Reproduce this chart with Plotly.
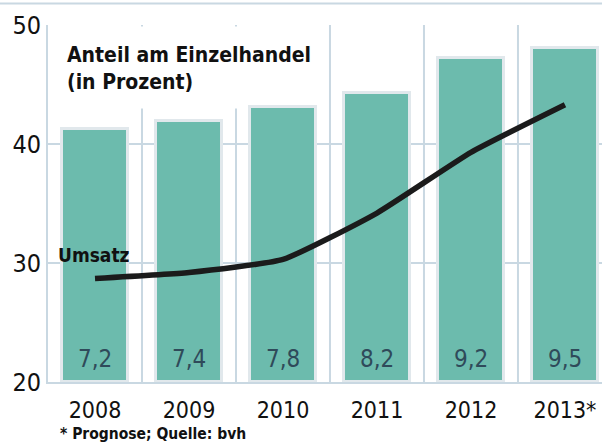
import plotly.graph_objects as go

years = ["2008", "2009", "2010", "2011", "2012", "2013*"]
share_pct = [7.2, 7.4, 7.8, 8.2, 9.2, 9.5]
share_labels = ["7,2", "7,4", "7,8", "8,2", "9,2", "9,5"]
umsatz = [28.7, 29.2, 30.3, 34.2, 39.3, 43.3]
y_ticks = [20, 30, 40, 50]

FONT = "Liberation Sans Narrow, DejaVu Sans Condensed, Arial Narrow, sans-serif"
GRID = "#c9d8e2"
TEAL = "#6cbbad"
LABEL = "#2f4a5a"

xs = list(range(len(years)))

fig = go.Figure()
fig.add_trace(go.Bar(
    x=xs, y=share_pct, yaxis="y", width=0.70,
    marker=dict(color=TEAL, line=dict(color="#e1e8ec", width=3)),
    hoverinfo="skip", showlegend=False,
))
fig.add_trace(go.Scatter(
    x=xs, y=umsatz, yaxis="y2", mode="lines",
    line=dict(color="#1b1b1b", width=5.5, shape="spline", smoothing=0.45),
    showlegend=False, cliponaxis=False, hoverinfo="skip",
))

shapes = []
for i in range(len(years) - 1):
    shapes.append(dict(type="line", xref="x", yref="paper", x0=i + 0.5, x1=i + 0.5,
                       y0=0, y1=1, line=dict(color=GRID, width=2), layer="between"))
# white box behind the title
shapes.append(dict(type="rect", xref="paper", yref="paper", x0=0.004, x1=0.487,
                   y0=0.766, y1=0.996, fillcolor="white", line=dict(width=0), layer="between"))
# thin rule at the very top
shapes.append(dict(type="line", xref="paper", yref="paper", x0=-0.09, x1=1.0,
                   y0=1.06, y1=1.06, line=dict(color=GRID, width=2), layer="above"))

annotations = []
for i, t in enumerate(share_labels):
    annotations.append(dict(x=xs[i], y=21.93, xref="x", yref="y2", text=t, showarrow=False,
                            font=dict(family=FONT, size=24, color=LABEL),
                            xanchor="center", yanchor="middle"))
annotations.append(dict(x=0.031, y=0.955, xref="paper", yref="paper",
                        text="<b>Anteil am Einzelhandel<br>(in Prozent)</b>", showarrow=False,
                        align="left", xanchor="left", yanchor="top",
                        font=dict(family=FONT, size=21, color="#111")))
annotations.append(dict(x=xs[0], y=umsatz[0], xref="x", yref="y2", text="<b>Umsatz</b>",
                        showarrow=False, xanchor="center", yanchor="bottom", xshift=-1, yshift=10,
                        font=dict(family=FONT, size=19, color="#111")))
annotations.append(dict(x=0.018, y=-0.115, xref="paper", yref="paper",
                        text="<b>* Prognose; Quelle: bvh</b>", showarrow=False,
                        xanchor="left", yanchor="top",
                        font=dict(family=FONT, size=15.5, color="#111")))

fig.update_layout(
    width=602, height=447,
    margin=dict(l=48, r=0, t=24.5, b=65, autoexpand=False),
    paper_bgcolor="white", plot_bgcolor="white",
    bargap=0,
    xaxis=dict(range=[-0.5, 5.394], tickvals=xs, ticktext=years, showgrid=False,
               zeroline=False, showline=True, linecolor=GRID, linewidth=2, automargin=False,
               ticks="outside", ticklen=6, tickcolor="rgba(0,0,0,0)",
               tickfont=dict(family=FONT, size=23, color="#111")),
    yaxis=dict(range=[0, 10.14], visible=False, showgrid=False, zeroline=False, automargin=False),
    yaxis2=dict(range=[20, 50], overlaying="y", side="left", tickvals=y_ticks, automargin=False,
                showgrid=True, gridcolor=GRID, gridwidth=2, zeroline=False,
                showline=True, linecolor=GRID, linewidth=2, ticks="",
                tickfont=dict(family=FONT, size=25, color="#111")),
    shapes=shapes, annotations=annotations,
)

fig.write_html("out.html", config={"displayModeBar": False},
               post_script="document.body.style.margin='0';document.body.style.padding='0';")
